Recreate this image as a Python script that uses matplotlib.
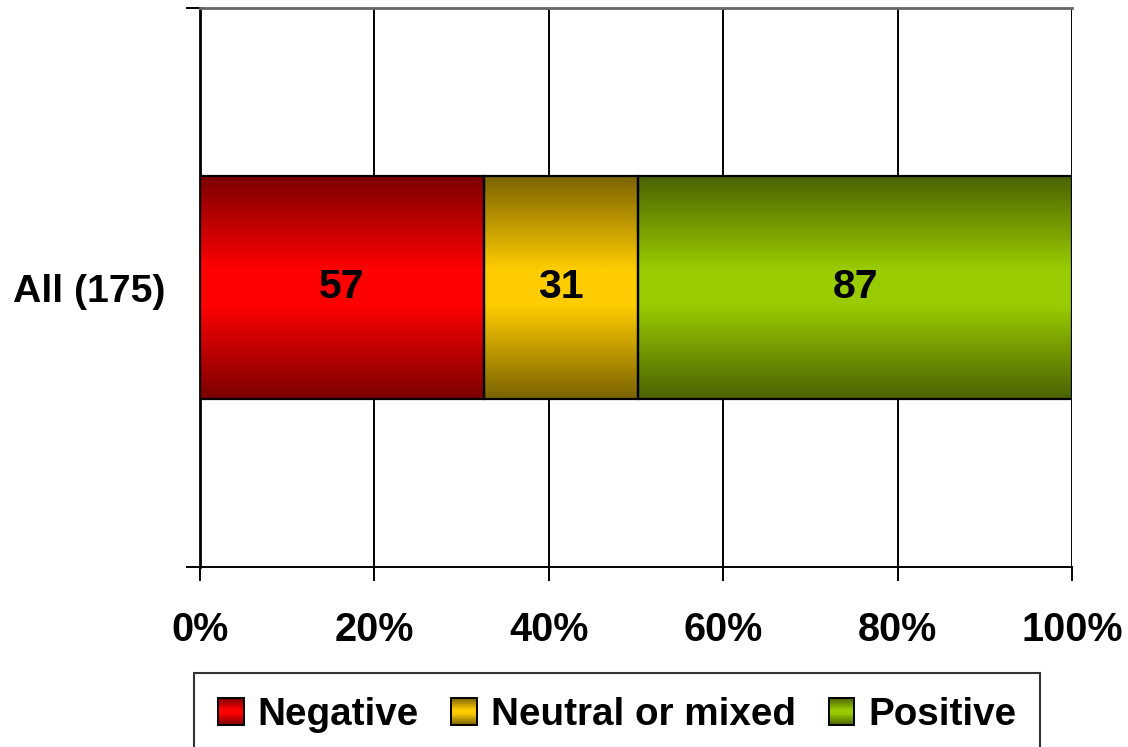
import numpy as np
import matplotlib
matplotlib.use("Agg")
import matplotlib.pyplot as plt
from matplotlib.colors import LinearSegmentedColormap
from matplotlib.patches import Rectangle, Patch
from matplotlib.legend_handler import HandlerBase

# data
category = "All (175)"
series_names = ["Negative", "Neutral or mixed", "Positive"]
counts = [57, 31, 87]
# (dark edge, bright centre) for the gradient fills
colours = [("#7a0000", "#ff0000"), ("#7a6200", "#ffcc00"), ("#4a6200", "#99cc00")]
xticks = [0, 20, 40, 60, 80, 100]

plt.rcParams["font.family"] = ["Liberation Sans", "DejaVu Sans"]
plt.rcParams["font.weight"] = "bold"

W, H = 1128, 747
fig = plt.figure(figsize=(W / 100, H / 100), dpi=100)
ax = fig.add_axes([200 / W, 1 - 567 / H, (1072 - 200) / W, (567 - 8) / H])

def make_cmap(dark, bright):
    return LinearSegmentedColormap.from_list("g", [(0, dark), (0.42, bright), (0.58, bright), (1, dark)])

cmaps = [make_cmap(d, b) for d, b in colours]

total = sum(counts)
pct = [c / total * 100 for c in counts]
lefts = np.concatenate([[0], np.cumsum(pct)[:-1]])

grad = np.linspace(0, 1, 256).reshape(-1, 1)
for i in range(len(counts)):
    bars = ax.barh([0], [pct[i]], left=[lefts[i]], height=0.4, facecolor="none",
                   edgecolor="black", linewidth=1.6, zorder=4)
    p = bars.patches[0]
    ax.imshow(grad, cmap=cmaps[i], aspect="auto", zorder=3, interpolation="bilinear",
              extent=[p.get_x(), p.get_x() + p.get_width(), p.get_y(), p.get_y() + p.get_height()])
    ax.bar_label(bars, labels=[str(counts[i])], label_type="center", fontsize=29.5,
                 fontweight="bold", zorder=5)

ax.set_xlim(0, 100)
ax.set_ylim(-0.5, 0.5)
ax.set_aspect("auto")

for x in xticks[1:]:
    ax.axvline(x, color="black", linewidth=1.4, zorder=1)

ax.set_xticks(xticks)
ax.set_xticklabels([f"{t}%" for t in xticks], fontsize=28.5, fontweight="bold")
ax.tick_params(axis="x", direction="out", length=10, width=1.4, pad=22)
ax.set_yticks([0])
ax.set_yticklabels([category], fontsize=28.3, fontweight="bold")
ax.tick_params(axis="y", length=0, pad=25)
ax.set_yticks([-0.5, 0.5], minor=True)
ax.tick_params(axis="y", which="minor", direction="out", length=10, width=1.4)

ax.spines["right"].set_visible(False)
ax.spines["left"].set_linewidth(2)
ax.spines["bottom"].set_linewidth(1.4)
ax.spines["top"].set_color("#666666")
ax.spines["top"].set_linewidth(2)

class GradHandler(HandlerBase):
    def __init__(self, cmap):
        super().__init__()
        self.cmap = cmap

    def create_artists(self, legend, orig_handle, xdescent, ydescent, width, height, fontsize, trans):
        arts = []
        n = 14
        for k in range(n):
            arts.append(Rectangle((-xdescent, -ydescent + k * height / n), width, height / n + 0.3,
                                  facecolor=self.cmap((k + 0.5) / n), edgecolor="none", transform=trans))
        arts.append(Rectangle((-xdescent, -ydescent), width, height, facecolor="none",
                              edgecolor="black", linewidth=1.4, transform=trans))
        return arts

handles = [Patch(label=n) for n in series_names]
leg = fig.legend(handles=handles, handler_map={h: GradHandler(c) for h, c in zip(handles, cmaps)},
                 loc="upper left", bbox_to_anchor=(194 / W, 1 - 673 / H), ncol=3,
                 fontsize=27.8, frameon=True, fancybox=False, borderpad=0.62,
                 handlelength=0.67, handleheight=0.67, handletextpad=0.35, columnspacing=0.85,
                 borderaxespad=0)
leg.get_frame().set_edgecolor("black")
leg.get_frame().set_linewidth(1.5)
for t in leg.get_texts():
    t.set_fontweight("bold")

fig.savefig("out.png", dpi=100)
